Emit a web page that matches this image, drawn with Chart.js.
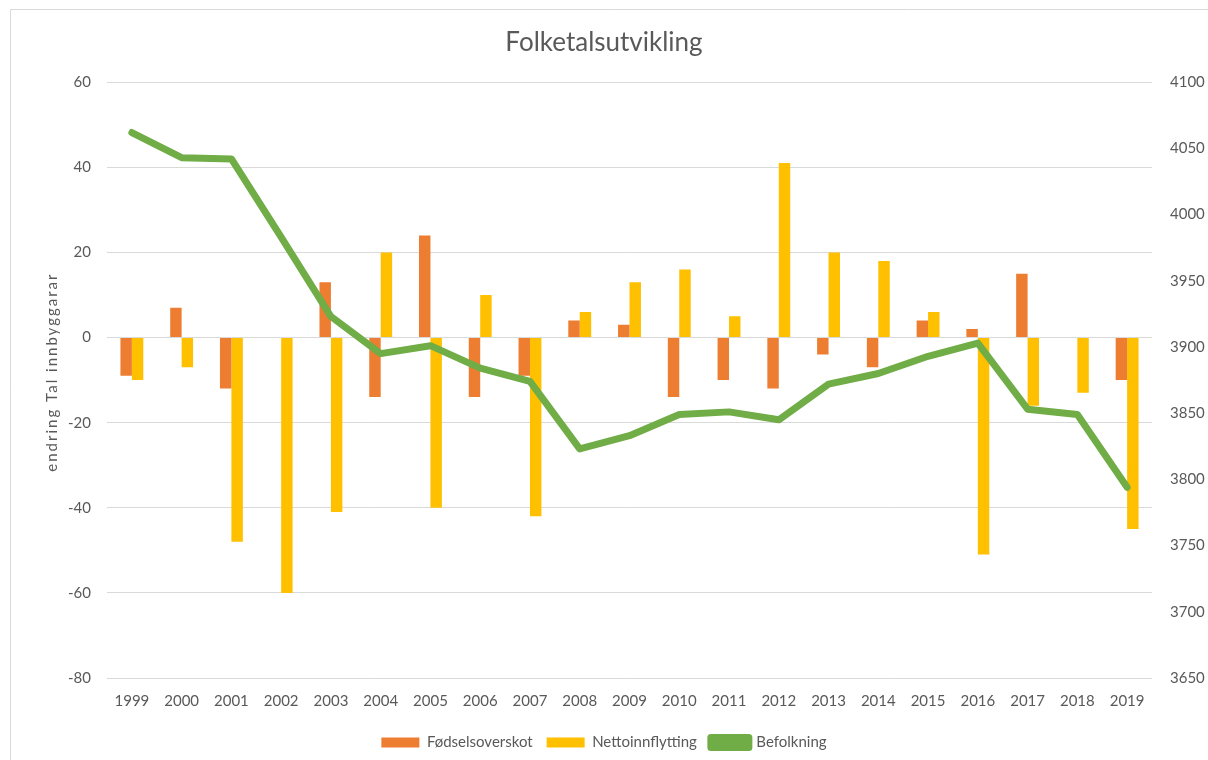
<!DOCTYPE html>
<html>
<head>
<meta charset="utf-8">
<script src="https://cdn.jsdelivr.net/npm/chart.js@4.4.1/dist/chart.umd.min.js"></script>
<style>
  html, body { margin: 0; padding: 0; background: #fff; }
  #wrap { width: 1208px; height: 760px; position: relative; }
</style>
</head>
<body>
<div id="wrap"><canvas id="c" width="1208" height="760"></canvas></div>
<script>
const years = ["1999","2000","2001","2002","2003","2004","2005","2006","2007","2008","2009","2010","2011","2012","2013","2014","2015","2016","2017","2018","2019"];
const fodselsoverskot = [-9, 7, -12, 0, 13, -14, 24, -14, -9, 4, 3, -14, -10, -12, -4, -7, 4, 2, 15, 0, -10];
const nettoinnflytting = [-10, -7, -48, -60, -41, 20, -40, 10, -42, 6, 13, 16, 5, 41, 20, 18, 6, -51, -16, -13, -45];
const befolkning = [4062, 4043, 4042, 3983, 3923, 3895, 3901, 3884, 3874, 3823, 3833, 3849, 3851, 3845, 3872, 3880, 3893, 3903, 3853, 3849, 3794];
const leftTicks = [-80, -60, -40, -20, 0, 20, 40, 60];
const rightTicks = [3650, 3700, 3750, 3800, 3850, 3900, 3950, 4000, 4050, 4100];
const leftAxisTitle = "endring Tal innbyggarar";

const FONT = "Lato, 'Open Sans', sans-serif";
const GREY = "#595959";

const frameAndTitle = {
  id: "frameAndTitle",
  beforeDraw(chart) {
    const ctx = chart.ctx;
    ctx.save();
    ctx.strokeStyle = "#D9D9D9";
    ctx.lineWidth = 1;
    ctx.beginPath();
    ctx.moveTo(1208, 9.5);
    ctx.lineTo(10.5, 9.5);
    ctx.lineTo(10.5, 760);
    ctx.stroke();
    ctx.restore();
  },
  afterDraw(chart) {
    const ctx = chart.ctx;
    const y = chart.scales.y;
    ctx.save();
    ctx.translate(52, (y.top + y.bottom) / 2 - 8);
    ctx.rotate(-Math.PI / 2);
    ctx.font = "15px " + FONT;
    if ("letterSpacing" in ctx) ctx.letterSpacing = "2px";
    ctx.fillStyle = GREY;
    ctx.textAlign = "center";
    ctx.textBaseline = "middle";
    ctx.fillText(leftAxisTitle, 0, 0);
    ctx.restore();
  }
};

new Chart(document.getElementById("c"), {
  data: {
    labels: years,
    datasets: [
      { type: "bar", label: "Fødselsoverskot", data: fodselsoverskot, backgroundColor: "#ED7D31", yAxisID: "y", order: 1,
        categoryPercentage: 0.46, barPercentage: 1.0 },
      { type: "bar", label: "Nettoinnflytting", data: nettoinnflytting, backgroundColor: "#FFC000", yAxisID: "y", order: 1,
        categoryPercentage: 0.46, barPercentage: 1.0 },
      { type: "line", label: "Befolkning", data: befolkning, borderColor: "#70AD47", backgroundColor: "#70AD47",
        borderWidth: 7, pointRadius: 0, borderCapStyle: "round", borderJoinStyle: "round", tension: 0, yAxisID: "y1", order: 0 }
    ]
  },
  plugins: [frameAndTitle],
  options: {
    responsive: false,
    animation: false,
    layout: { padding: { top: 0, left: 0, right: 0, bottom: 0 } },
    plugins: {
      title: {
        display: true, text: "Folketalsutvikling", color: GREY,
        font: { family: FONT, size: 26, weight: "normal" },
        padding: { top: 27, bottom: 24 }
      },
      legend: {
        position: "bottom",
        labels: {
          color: GREY, font: { family: FONT, size: 15 }, boxWidth: 38, boxHeight: 10, padding: 14,
          sort: (a, b) => a.datasetIndex - b.datasetIndex
        }
      },
      tooltip: { enabled: false }
    },
    scales: {
      x: {
        grid: { display: false },
        border: { display: false },
        ticks: { color: GREY, font: { family: FONT, size: 15 }, padding: 6, maxRotation: 0 },
        afterFit: s => { s.height = 43; }
      },
      y: {
        position: "left",
        min: -80, max: 60,
        afterBuildTicks: s => { s.ticks = leftTicks.map(v => ({ value: v })); },
        grid: { color: "#D9D9D9", lineWidth: 1, drawTicks: false },
        border: { display: false },
        ticks: { color: GREY, font: { family: FONT, size: 15 }, padding: 16 },
        afterFit: s => { s.width = 107; }
      },
      y1: {
        position: "right",
        min: 3650, max: 4100,
        afterBuildTicks: s => { s.ticks = rightTicks.map(v => ({ value: v })); },
        grid: { display: false, drawTicks: false },
        border: { display: false },
        ticks: { color: GREY, font: { family: FONT, size: 15 }, padding: 18, callback: v => String(v) },
        afterFit: s => { s.width = 56; }
      }
    }
  }
});
</script>
</body>
</html>
